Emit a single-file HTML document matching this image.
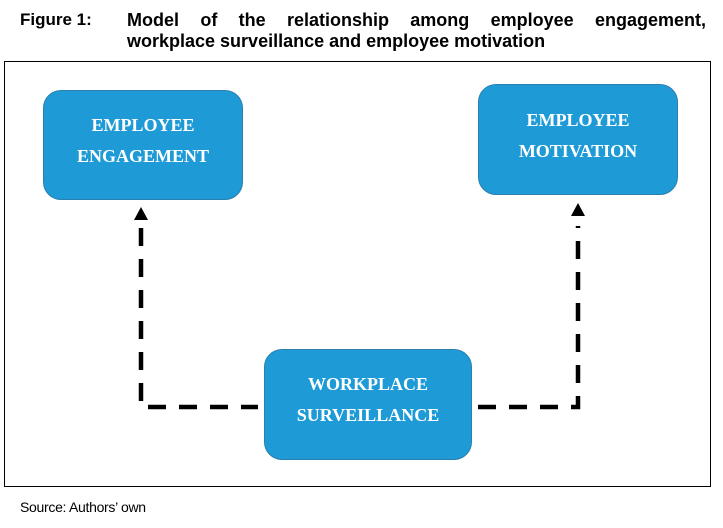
<!DOCTYPE html>
<html><head><style>
body{margin:0;width:723px;height:528px;background:#fff;position:relative;overflow:hidden;font-family:"Liberation Sans",sans-serif}
.t{position:absolute;font-weight:bold;font-size:18px;color:#000;white-space:nowrap}
.box{position:absolute;background:#1e9bd7;border:1px solid #2a7fae;border-radius:18px;box-sizing:border-box;color:#fff;font-family:"Liberation Serif",serif;font-weight:bold;font-size:18px;text-align:center;line-height:31px}
</style></head><body>
<div class="t" style="left:20px;top:10px;font-size:17px">Figure 1:</div>
<div class="t" style="left:127px;top:10px;width:579px;text-align:justify;text-align-last:justify">Model of the relationship among employee engagement,</div>
<div class="t" style="left:127px;top:31px">workplace surveillance and employee motivation</div>
<div style="position:absolute;left:4px;top:61px;width:707px;height:426px;border:1px solid #000;box-sizing:border-box"></div>
<div class="box" style="left:43px;top:90px;width:200px;height:110px;padding-top:19px">EMPLOYEE<br>ENGAGEMENT</div>
<div class="box" style="left:478px;top:84px;width:200px;height:111px;padding-top:20px">EMPLOYEE<br>MOTIVATION</div>
<div class="box" style="left:264px;top:349px;width:208px;height:111px;padding-top:19px">WORKPLACE<br>SURVEILLANCE</div>
<svg style="position:absolute;left:0;top:0" width="723" height="528">
<g fill="none" stroke="#000" stroke-width="4.5" stroke-dasharray="18,13">
<path d="M141 228 V407 H258"/>
<path d="M478 407 H578 V226"/>
</g>
<polygon points="141,207 134,220 148,220" fill="#000"/>
<polygon points="578,203 571,216 585,216" fill="#000"/>
</svg>
<div style="position:absolute;left:20px;top:499px;font-size:14px;color:#000;letter-spacing:-0.3px">Source: Authors’ own</div>
</body></html>
